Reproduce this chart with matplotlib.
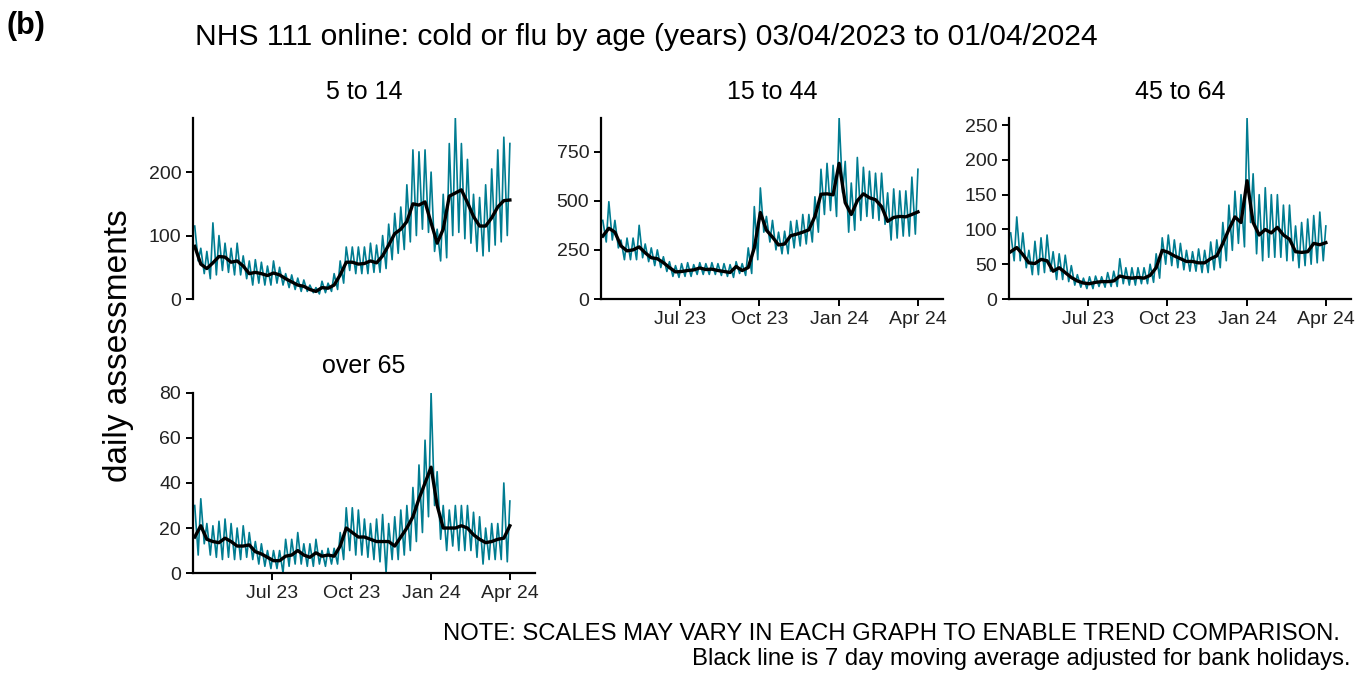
import numpy as np
import pandas as pd
import matplotlib
matplotlib.use("Agg")
import matplotlib.pyplot as plt
import matplotlib.dates as mdates

plt.rcParams['font.family'] = ['Liberation Sans', 'DejaVu Sans']

# weekly readings, week 0 starts Mon 03/04/2023, week 52 = 01/04/2024
week_start = pd.date_range("2023-04-03", "2024-04-01", freq="7D")

panel_titles = ["5 to 14", "15 to 44", "45 to 64", "over 65"]

# 7 day moving average (black), one value per week
avg_5_14 = [83, 55, 48, 57, 67, 66, 58, 60, 52, 40, 42, 40, 37, 41, 38, 32, 27, 22,
            20, 15, 12, 18, 17, 22, 38, 58, 58, 55, 56, 60, 57, 68, 85, 103, 110, 122,
            150, 148, 153, 120, 88, 110, 162, 167, 172, 152, 130, 115, 115, 128, 145,
            155, 156]
avg_15_44 = [320, 360, 340, 270, 245, 250, 265, 235, 210, 205, 185, 160, 138, 140, 145,
             148, 158, 150, 152, 145, 140, 135, 165, 145, 160, 260, 440, 350, 315, 275,
             280, 322, 330, 340, 352, 420, 533, 535, 530, 690, 490, 430, 500, 535, 515,
             505, 470, 395, 415, 420, 418, 430, 443]
avg_45_64 = [68, 74, 64, 52, 51, 57, 55, 40, 45, 38, 31, 26, 23, 22, 24, 25, 25, 26, 33,
             31, 30, 31, 30, 34, 45, 70, 67, 62, 58, 54, 54, 52, 52, 58, 62, 80, 100, 118,
             110, 170, 110, 92, 100, 95, 103, 92, 86, 68, 67, 68, 80, 78, 81]
avg_65 = [16, 21, 15, 14, 13.5, 15.5, 14, 12, 12, 12.5, 9.5, 8.5, 7, 5.5, 5.5, 7.5, 8,
          10, 8, 7, 9, 7.5, 8, 7.5, 12, 20, 18, 16, 16, 15, 14, 14, 14, 12, 16, 20, 25,
          33, 40, 47, 30, 20, 20, 20, 21, 20, 17, 15, 13.5, 14, 15, 15.5, 21]

# daily assessments (teal): weekly high (53, last = 01/04/2024) and weekly low (52)
high_5_14 = [115, 80, 75, 120, 100, 88, 80, 88, 68, 60, 62, 58, 52, 60, 50, 40, 38, 33,
             30, 22, 18, 28, 25, 40, 60, 82, 82, 82, 82, 88, 85, 100, 118, 135, 145, 180,
             235, 232, 235, 200, 110, 165, 245, 285, 245, 220, 165, 160, 180, 205, 235,
             255, 245]
low_5_14 = [60, 40, 32, 38, 45, 42, 38, 38, 32, 22, 25, 22, 22, 25, 22, 18, 15, 12, 12,
            10, 8, 10, 12, 15, 25, 45, 40, 40, 40, 42, 42, 48, 62, 72, 78, 90, 100, 110,
            105, 75, 60, 65, 100, 105, 95, 88, 75, 68, 75, 85, 90, 100]
high_15_44 = [400, 495, 400, 300, 310, 310, 375, 280, 260, 250, 215, 190, 170, 180, 185,
              175, 185, 180, 185, 180, 180, 175, 190, 180, 260, 470, 565, 420, 400, 340,
              345, 395, 400, 430, 430, 520, 660, 690, 680, 920, 700, 590, 720, 670, 650,
              640, 640, 540, 560, 550, 550, 620, 660]
low_15_44 = [290, 300, 260, 200, 200, 200, 210, 190, 170, 160, 140, 115, 110, 115, 115,
             125, 125, 125, 125, 120, 115, 110, 130, 120, 130, 200, 340, 290, 250, 230,
             230, 260, 270, 280, 290, 340, 430, 450, 420, 540, 340, 350, 400, 420, 410,
             400, 380, 300, 310, 320, 320, 330]
high_45_64 = [95, 118, 95, 70, 83, 88, 92, 68, 65, 63, 48, 35, 30, 32, 33, 32, 38, 40, 58,
              45, 45, 45, 45, 50, 65, 88, 92, 85, 80, 70, 68, 72, 70, 82, 85, 110, 135,
              155, 150, 260, 180, 150, 160, 150, 150, 135, 135, 105, 110, 115, 120, 125,
              105]
low_45_64 = [55, 55, 45, 35, 35, 38, 40, 28, 28, 25, 20, 17, 15, 15, 18, 17, 18, 18, 22,
             20, 20, 22, 22, 24, 30, 50, 48, 45, 42, 40, 40, 38, 38, 42, 45, 55, 70, 80,
             75, 110, 65, 55, 60, 60, 60, 55, 55, 45, 48, 50, 52, 55]
high_65 = [30, 33, 22, 21, 23, 24, 22, 20, 21, 18, 14, 13, 10, 10, 10, 15, 15, 18, 13, 13,
           15, 10, 11, 11, 18, 29, 29, 28, 24, 22, 24, 26, 22, 25, 28, 30, 38, 48, 59, 80,
           45, 30, 28, 30, 30, 30, 27, 25, 20, 22, 22, 40, 32]
low_65 = [8, 13, 8, 7, 6, 7, 6, 6, 7, 6, 4, 3, 2, 2, 0, 3, 4, 4, 3, 3, 4, 3, 4, 4, 6, 10,
          8, 8, 7, 6, 5, 0, 6, 6, 8, 10, 14, 18, 25, 30, 15, 10, 12, 10, 10, 10, 7, 4, 6,
          6, 6, 5]

avg_series = [avg_5_14, avg_15_44, avg_45_64, avg_65]
high_series = [high_5_14, high_15_44, high_45_64, high_65]
low_series = [low_5_14, low_15_44, low_45_64, low_65]
y_ticks = [[0, 100, 200], [0, 250, 500, 750], [0, 50, 100, 150, 200, 250],
           [0, 20, 40, 60, 80]]

x_ticks = pd.to_datetime(["2023-07-01", "2023-10-01", "2024-01-01", "2024-04-01"])
x_lim = pd.to_datetime(["2023-04-01", "2024-04-30"])

teal = "#007c91"

# axes boxes [left, bottom, width, height] in figure fraction
boxes = [[0.1417, 0.557, 0.2511, 0.268],
         [0.4413, 0.557, 0.2511, 0.268],
         [0.7408, 0.557, 0.2511, 0.268],
         [0.1417, 0.151, 0.2511, 0.267]]

fig = plt.figure(figsize=(13.62, 6.75), dpi=100)

for k in range(4):
    ax = fig.add_axes(boxes[k])

    # teal line: alternate weekly high (Mon) and low (Fri)
    hi = high_series[k]
    lo = low_series[k]
    t_dates = []
    t_vals = []
    for i in range(len(lo)):
        t_dates += [week_start[i], week_start[i] + pd.Timedelta(days=4)]
        t_vals += [hi[i], lo[i]]
    t_dates.append(week_start[-1])
    t_vals.append(hi[-1])
    ax.plot(t_dates, t_vals, color=teal, linewidth=1.2)
    ax.plot(week_start, avg_series[k], color="black", linewidth=2.4)

    ax.set_xlim(x_lim[0], x_lim[1])
    ax.set_ylim(0, max(hi))
    ax.set_yticks(y_ticks[k])
    ax.set_xticks(x_ticks)
    ax.xaxis.set_major_formatter(mdates.DateFormatter("%b %y"))
    ax.set_title(panel_titles[k], fontsize=18, pad=14)

    for s in ["top", "right"]:
        ax.spines[s].set_visible(False)
    ax.spines["left"].set_linewidth(1.6)
    ax.spines["bottom"].set_linewidth(1.6)
    ax.tick_params(labelsize=14, length=5, width=1.4, labelcolor="#222222")
    if k == 0:
        ax.spines["bottom"].set_visible(False)
        ax.tick_params(axis="x", bottom=False, labelbottom=False)

fig.text(0.005, 1 - 26 / 675, "(b)", fontsize=22, fontweight="bold", va="center")
fig.text(0.143, 1 - 37 / 675,
         "NHS 111 online: cold or flu by age (years) 03/04/2023 to 01/04/2024",
         fontsize=21.6, va="center", ha="left")
fig.text(119 / 1362, 1 - 346 / 675, "daily assessments", fontsize=24,
         rotation=90, va="center", ha="center")
fig.text(1340 / 1362, 1 - 634 / 675,
         "NOTE: SCALES MAY VARY IN EACH GRAPH TO ENABLE TREND COMPARISON.",
         fontsize=17.2, ha="right", va="center")
fig.text(1350 / 1362, 1 - 659 / 675,
         "Black line is 7 day moving average adjusted for bank holidays.",
         fontsize=17.2, ha="right", va="center")

fig.savefig("out.png", dpi=100)
